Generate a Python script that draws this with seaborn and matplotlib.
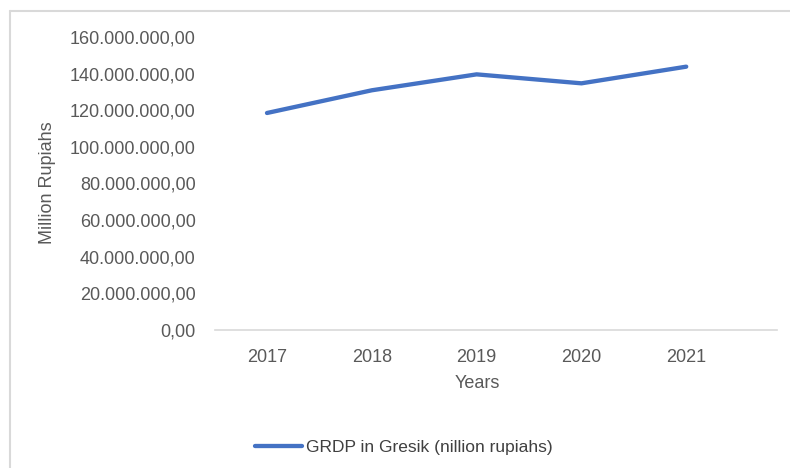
import matplotlib
matplotlib.use("Agg")
import matplotlib.pyplot as plt
import seaborn as sns
import pandas as pd
from matplotlib.lines import Line2D
from matplotlib.ticker import FuncFormatter

years = ["2017", "2018", "2019", "2020", "2021"]
grdp = [118_500_000, 130_900_000, 139_600_000, 134_700_000, 143_800_000]
series_name = "GRDP in Gresik (nillion rupiahs)"
y_ticks = [0, 20_000_000, 40_000_000, 60_000_000, 80_000_000,
           100_000_000, 120_000_000, 140_000_000, 160_000_000]

sns.set_theme(style="white")
plt.rcParams["font.family"] = ["Liberation Sans", "DejaVu Sans"]

df = pd.DataFrame({"Year": years, "GRDP": grdp, "Series": series_name})

fig = plt.figure(figsize=(7.9, 4.68), dpi=100)
ax = fig.add_axes([215/790, 1 - 330/468, 562/790, 293/468])

sns.lineplot(data=df, x="Year", y="GRDP", hue="Series", palette=["#4472C4"],
             linewidth=3.1, ax=ax, legend=False, sort=False,
             solid_capstyle="round", solid_joinstyle="round")

ax.set_ylim(0, 160_000_000)
ax.set_xlim(-0.496, 4.866)
ax.set_yticks(y_ticks)

def fmt(v, pos):
    s = f"{int(round(v)):,}".replace(",", ".")
    return s + ",00"

ax.yaxis.set_major_formatter(FuncFormatter(fmt))
ax.tick_params(axis="both", length=0, colors="#595959", labelsize=13)
ax.tick_params(axis="y", pad=14)
ax.tick_params(axis="x", pad=14)

for s in ["top", "right", "left"]:
    ax.spines[s].set_visible(False)
ax.spines["bottom"].set_color("#d9d9d9")
ax.spines["bottom"].set_linewidth(1.2)
ax.grid(False)

ax.set_xlabel("Years", fontsize=13, color="#595959")
ax.xaxis.label.set_va("center")
ax.xaxis.set_label_coords(0.466, (330 - 384) / 293)
ax.set_ylabel("Million Rupiahs", fontsize=13, color="#595959")
ax.yaxis.label.set_va("center")
ax.yaxis.set_label_coords((48 - 215) / 562, (330 - 183) / 293)

handle = Line2D([0], [0], color="#4472C4", linewidth=3.1, solid_capstyle="round")
fig.legend([handle], [series_name], loc="center left",
           bbox_to_anchor=(255/790, 1 - 447/468), frameon=False,
           fontsize=12.5, handlelength=2.7, handletextpad=0.25,
           borderpad=0, borderaxespad=0, labelcolor="#404040")

# outer chart frame
fig.add_artist(Line2D([10/790, 10/790], [0, 1 - 11/468], transform=fig.transFigure,
                      color="#d9d9d9", linewidth=1.5))
fig.add_artist(Line2D([10/790, 1], [1 - 11/468, 1 - 11/468], transform=fig.transFigure,
                      color="#d9d9d9", linewidth=1.5))

fig.savefig("out.png", dpi=100)
